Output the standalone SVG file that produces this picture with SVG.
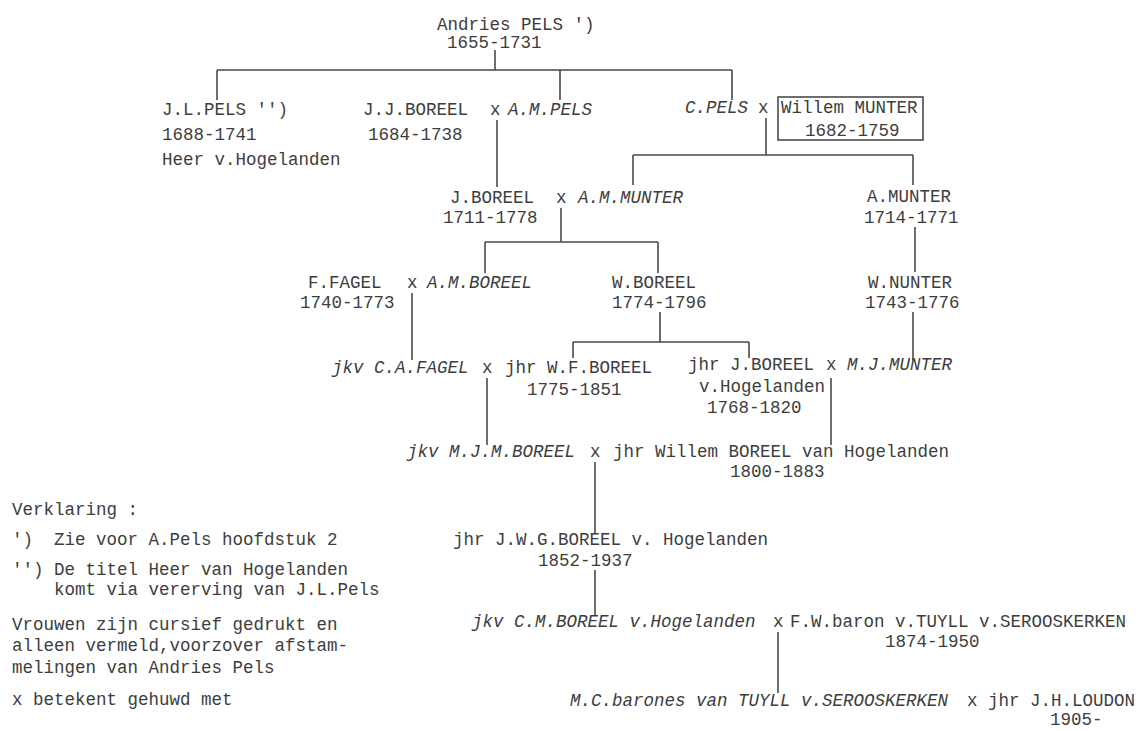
<svg xmlns="http://www.w3.org/2000/svg" width="1142" height="731" viewBox="0 0 1142 731">
<style>
text{font-family:"Liberation Mono","DejaVu Sans Mono",monospace;font-size:17.5px;fill:#3d3d3d;white-space:pre}
.i{font-style:italic}
.l{stroke:#4a4a4a;stroke-width:1.6;fill:none}
.box{stroke:#4a4a4a;stroke-width:1.6;fill:none}
</style>
<rect width="1142" height="731" fill="#fff"/>
<g id="connectors" class="l">
<path d="M495 50V70M217 70H732M217 70V100M560 70V100M732 70V100"/>
<path d="M497 120V187"/>
<path d="M766 118V155M633 155H913M633 155V185M913 155V185"/>
<path d="M561 208V242M485 242H658M485 242V273M658 242V273"/>
<path d="M915 227V272"/>
<path d="M412 293V360"/>
<path d="M660 312V342M573 342H749M573 342V358M749 342V358"/>
<path d="M913 312V360"/>
<path d="M487 378V445"/>
<path d="M831 378V445"/>
<path d="M595 462V533"/>
<path d="M595 570V615"/>
<path d="M778 632V693"/>
</g>
<g id="andries"><text x="437" y="30">Andries PELS ')</text><text x="447" y="48">1655-1731</text></g>
<g id="jlpels"><text x="162" y="115">J.L.PELS '')</text><text x="162" y="140">1688-1741</text><text x="162" y="165">Heer v.Hogelanden</text></g>
<g id="jjboreel"><text x="363" y="115">J.J.BOREEL</text><text x="368" y="140">1684-1738</text><text x="490" y="115">x</text><text class="i" x="508" y="115">A.M.PELS</text></g>
<g id="cpels"><text class="i" x="685" y="113">C.PELS</text><text x="758" y="113">x</text><rect class="box" x="778" y="97" width="145" height="43"/><text x="781" y="113">Willem MUNTER</text><text x="805" y="136">1682-1759</text></g>
<g id="jboreel"><text x="450" y="203">J.BOREEL</text><text x="443" y="223">1711-1778</text><text x="556" y="203">x</text><text class="i" x="578" y="203">A.M.MUNTER</text></g>
<g id="amunter"><text x="867" y="202">A.MUNTER</text><text x="864" y="223">1714-1771</text></g>
<g id="ffagel"><text x="308" y="288">F.FAGEL</text><text x="300" y="308">1740-1773</text><text x="407" y="288">x</text><text class="i" x="427" y="288">A.M.BOREEL</text></g>
<g id="wboreel"><text x="612" y="288">W.BOREEL</text><text x="612" y="308">1774-1796</text></g>
<g id="wnunter"><text x="868" y="288">W.NUNTER</text><text x="865" y="308">1743-1776</text></g>
<g id="cafagel"><text class="i" x="332" y="373">jkv C.A.FAGEL</text><text x="482" y="373">x</text><text x="505" y="373">jhr W.F.BOREEL</text><text x="527" y="395">1775-1851</text></g>
<g id="jboreel2"><text x="688" y="370">jhr J.BOREEL</text><text x="699" y="392">v.Hogelanden</text><text x="707" y="413">1768-1820</text><text x="826" y="370">x</text><text class="i" x="847" y="370">M.J.MUNTER</text></g>
<g id="mjmboreel"><text class="i" x="407" y="457">jkv M.J.M.BOREEL</text><text x="590" y="457">x</text><text x="613" y="457">jhr Willem BOREEL van Hogelanden</text><text x="730" y="477">1800-1883</text></g>
<g id="jwgboreel"><text x="453" y="545">jhr J.W.G.BOREEL v. Hogelanden</text><text x="538" y="566">1852-1937</text></g>
<g id="cmboreel"><text class="i" x="472" y="627">jkv C.M.BOREEL v.Hogelanden</text><text x="773" y="627">x</text><text x="790" y="627">F.W.baron v.TUYLL v.SEROOSKERKEN</text><text x="885" y="647">1874-1950</text></g>
<g id="mcbarones"><text class="i" x="570" y="706">M.C.barones van TUYLL v.SEROOSKERKEN</text><text x="967" y="706">x</text><text x="988" y="706">jhr J.H.LOUDON</text><text x="1050" y="725">1905-</text></g>
<g id="legend">
<text x="12" y="515">Verklaring :</text>
<text x="12" y="545" xml:space="preserve">')  Zie voor A.Pels hoofdstuk 2</text>
<text x="12" y="575" xml:space="preserve">'') De titel Heer van Hogelanden</text>
<text x="54" y="595">komt via vererving van J.L.Pels</text>
<text x="12" y="630">Vrouwen zijn cursief gedrukt en</text>
<text x="12" y="651">alleen vermeld,voorzover afstam-</text>
<text x="12" y="673">melingen van Andries Pels</text>
<text x="12" y="705">x betekent gehuwd met</text>
</g>
</svg>
